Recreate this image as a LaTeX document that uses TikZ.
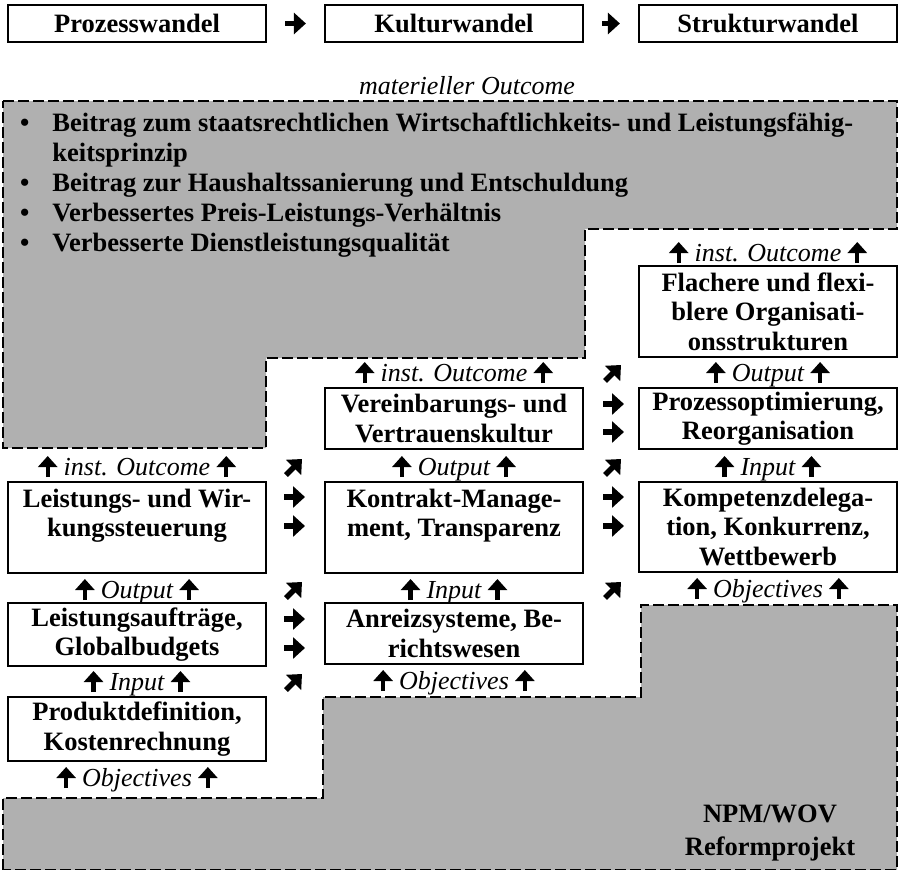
\documentclass[tikz,border=0pt]{standalone}
\usepackage{fontspec}
\setmainfont{Liberation Serif}
\usetikzlibrary{arrows.meta}
\definecolor{halftone}{HTML}{B0B0B0}
\newcommand\upar{\tikz[baseline=0pt]\draw[line width=4.2pt,-{Triangle[length=11pt,width=19pt]}] (0pt,-2pt)--(0pt,19pt);}

\begin{document}
\begin{tikzpicture}[x=1pt,y=-1pt,
 box/.style={draw,line width=1.5pt,fill=white,align=center,inner sep=0pt,minimum width=258pt,
  font=\bfseries\fontsize{26.5}{29.5}\selectfont},
 lbl/.style={anchor=base,inner sep=0pt,font=\itshape\fontsize{26}{29.5}\selectfont},
 zone/.style={draw,fill=halftone,line width=2pt,dash pattern=on 11pt off 4pt},
 fat/.style={line width=5.5pt,-{Triangle[length=12pt,width=21pt]}}]
\useasboundingbox (0,0) rectangle (898,870);
% shaded zones
\draw[zone] (3,101)--(897,101)--(897,229)--(585,229)--(585,358)--(266,358)--(266,448)--(3,448)--cycle;
\draw[zone] (3,870)--(3,798)--(323,798)--(323,697)--(641,697)--(641,605)--(897,605)--(897,870)--cycle;
% top row
\node[box,line width=2.2pt,minimum height=37pt] (proz) at (137,23.5) {Prozesswandel};
\node[box,line width=2.2pt,minimum height=37pt] (kult) at (454,23.5) {Kulturwandel};
\node[box,line width=2.2pt,minimum height=37pt] (strukt) at (768,23.5) {Strukturwandel};
\draw[fat,shorten <=18pt,shorten >=18pt] (proz)--(kult);
\draw[fat,shorten <=18pt,shorten >=18pt] (kult)--(strukt);
\node[lbl] (matout) at (467,94) {materieller Outcome};
\node[anchor=north west,inner sep=0pt,font=\bfseries\fontsize{26.5}{30}\selectfont] (goals) at (20,110)
 {\begin{tabular}{@{}l@{\hspace{23pt}}l@{}}
 \textbullet & Beitrag zum staatsrechtlichen Wirtschaftlichkeits- und Leistungsfähig-\\
 & keitsprinzip\\
 \textbullet & Beitrag zur Haushaltssanierung und Entschuldung\\
 \textbullet & Verbessertes Preis-Leistungs-Verhältnis\\
 \textbullet & Verbesserte Dienstleistungsqualität
 \end{tabular}};
% column 1
\node[lbl] (ioc1) at (137,475) {\upar\ inst. Outcome \upar};
\node[box,minimum height=91pt] (leist) at (137,527.5) {Leistungs- und Wir-\\kungssteuerung\\\mbox{}};
\node[lbl] (out1) at (137,598) {\upar\ Output \upar};
\node[box,minimum height=63pt] (auftr) at (137,634.5) {Leistungsaufträge,\\Globalbudgets};
\node[lbl] (in1) at (137,690) {\upar\ Input \upar};
\node[box,minimum height=64pt] (prod) at (137,729) {Produktdefinition,\\Kostenrechnung};
\node[lbl] (obj1) at (137,786) {\upar\ Objectives \upar};
% column 2
\node[lbl] (ioc2) at (454,381) {\upar\ inst. Outcome \upar};
\node[box,minimum height=61pt] (verein) at (454,418.5) {Vereinbarungs- und\\Vertrauenskultur};
\node[lbl] (out2) at (454,475) {\upar\ Output \upar};
\node[box,minimum height=91pt] (kontr) at (454,527.5) {Kontrakt-Manage-\\ment, Transparenz\\\mbox{}};
\node[lbl] (in2) at (454,598) {\upar\ Input \upar};
\node[box,minimum height=61pt] (anreiz) at (454,633.5) {Anreizsysteme, Be-\\richtswesen};
\node[lbl] (obj2) at (454,689) {\upar\ Objectives \upar};
% column 3
\node[lbl] (ioc3) at (768,261) {\upar\ inst. Outcome \upar};
\node[box,minimum height=91pt] (flach) at (768,311.5) {Flachere und flexi-\\blere Organisati-\\onsstrukturen};
\node[lbl] (out3) at (768,381) {\upar\ Output \upar};
\node[box,minimum height=61pt] (optim) at (768,418.5) {Prozessoptimierung,\\Reorganisation};
\node[lbl] (in3) at (768,475) {\upar\ Input \upar};
\node[box,minimum height=90pt] (kompet) at (768,527) {Kompetenzdelega-\\tion, Konkurrenz,\\Wettbewerb};
\node[lbl] (obj3) at (768,597) {\upar\ Objectives \upar};
% arrows between columns
\draw[fat] (286,475)--(302,459);
\draw[fat] (284,497)--(305,497);
\draw[fat] (284,526)--(305,526);
\draw[fat] (286,598)--(302,582);
\draw[fat] (284,619)--(305,619);
\draw[fat] (284,648)--(305,648);
\draw[fat] (286,690)--(302,674);
\draw[fat] (605,381)--(621,365);
\draw[fat] (603,404)--(624,404);
\draw[fat] (603,432)--(624,432);
\draw[fat] (605,475)--(621,459);
\draw[fat] (603,497)--(624,497);
\draw[fat] (603,526)--(624,526);
\draw[fat] (605,598)--(621,582);
\node[font=\bfseries\fontsize{26.5}{33}\selectfont,align=center,inner sep=0pt] (npm) at (770,833) {NPM/WOV\\Reformprojekt};
\end{tikzpicture}
\end{document}
